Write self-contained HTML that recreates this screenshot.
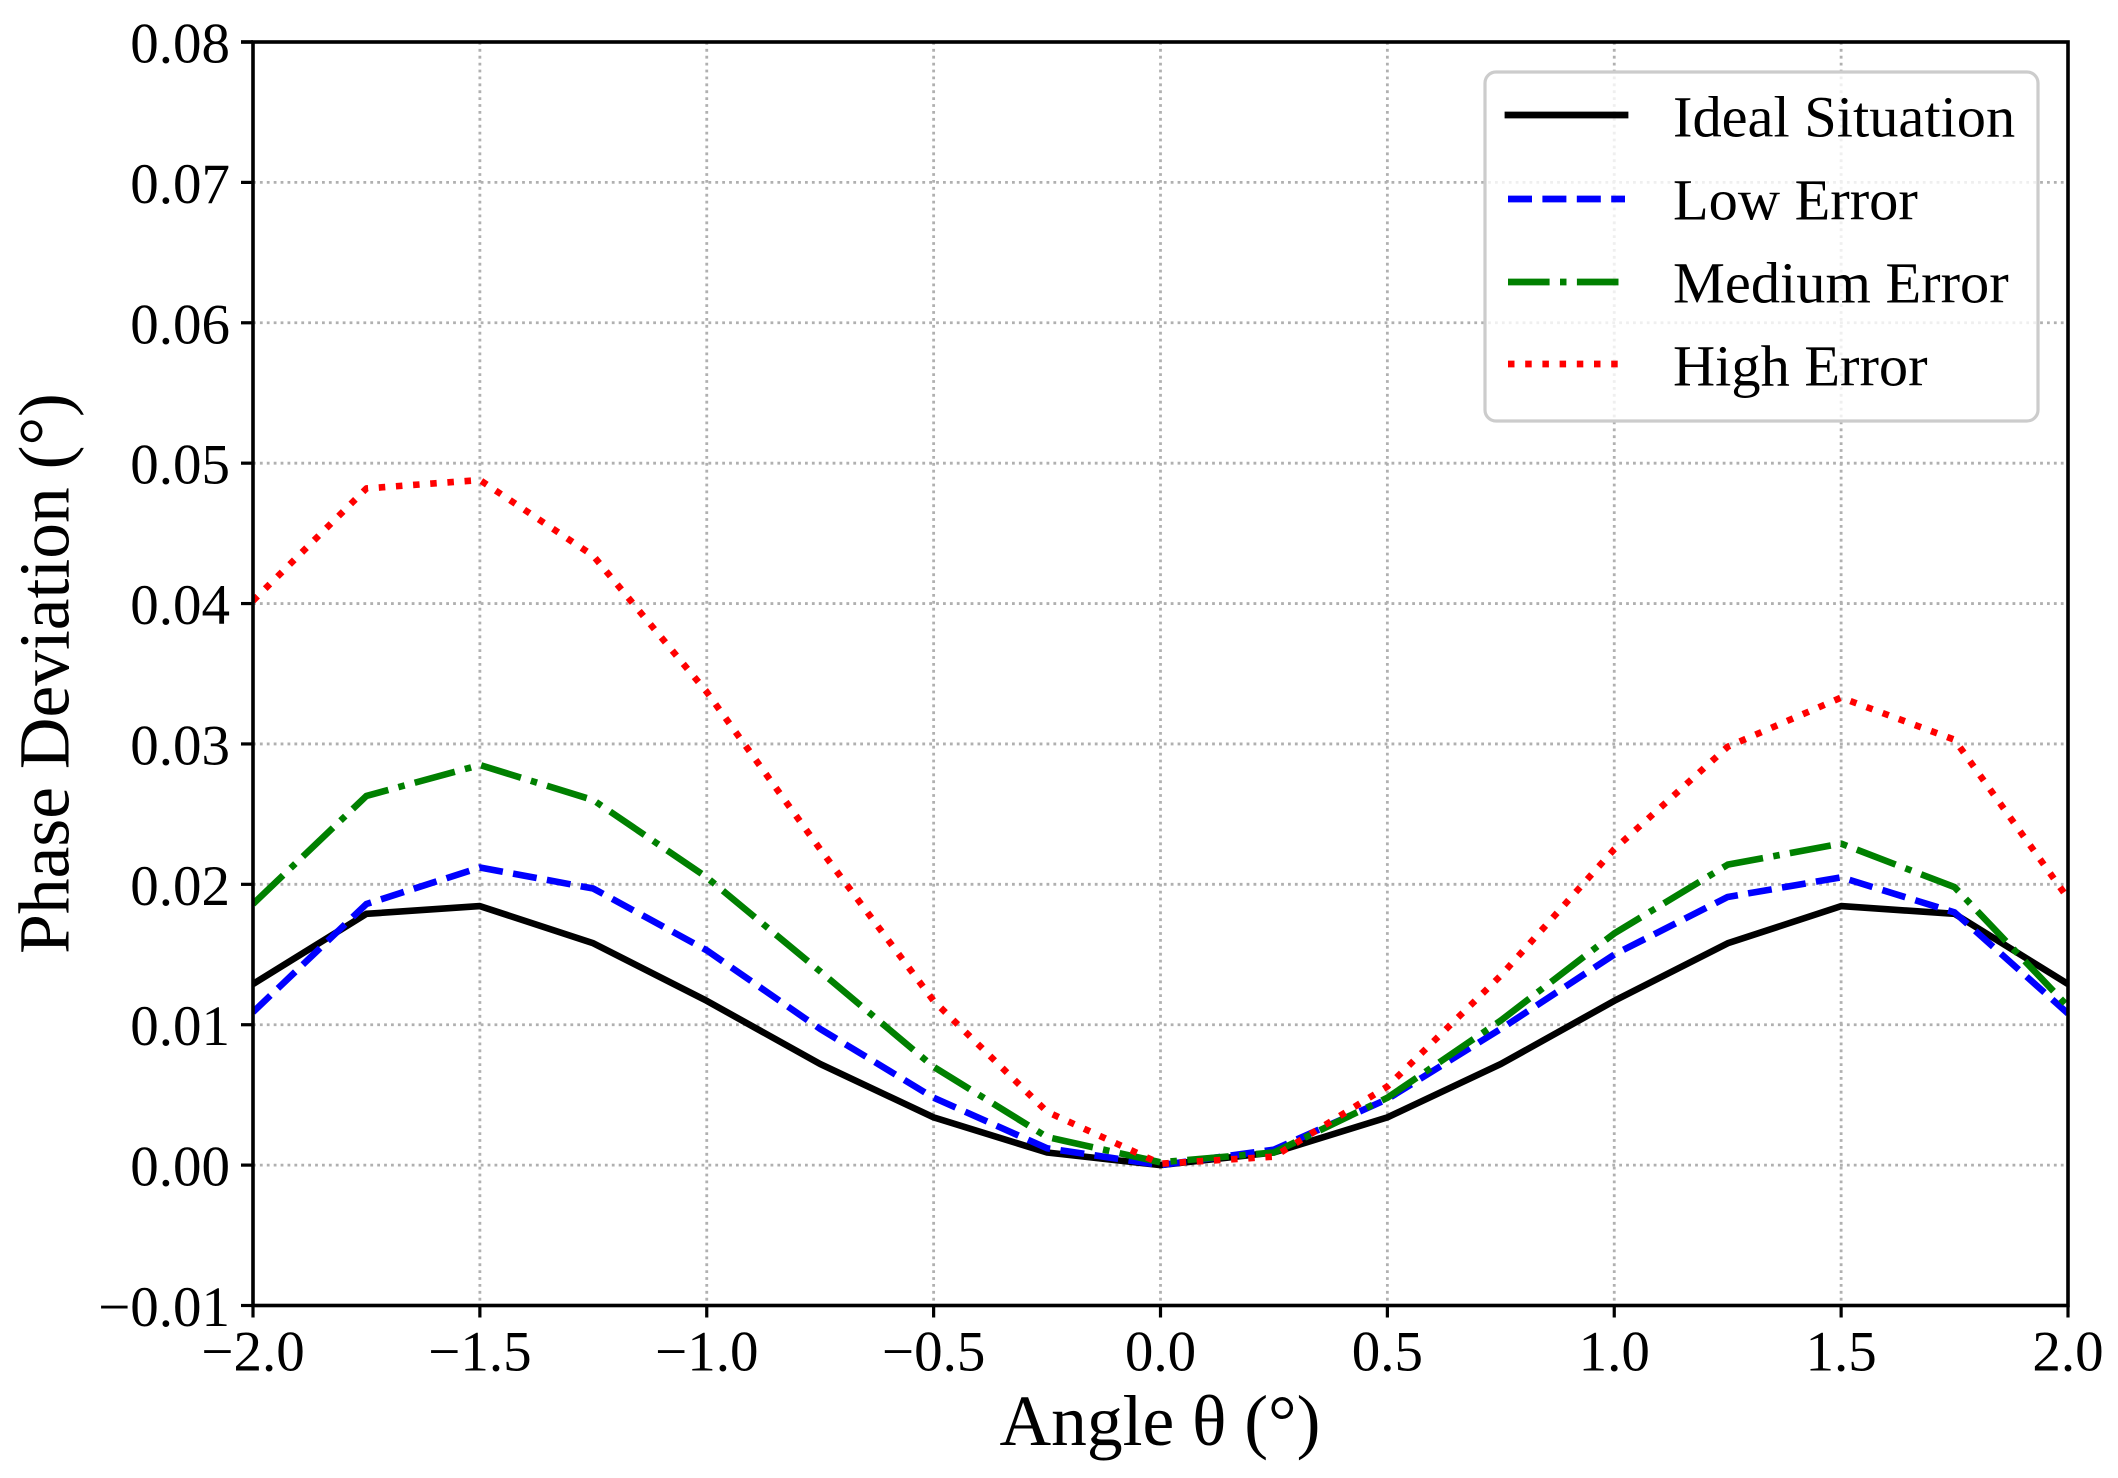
<!DOCTYPE html>
<html lang="en">
<head>
<meta charset="utf-8">
<title>Phase Deviation vs Angle</title>
<style>
  html, body { margin: 0; padding: 0; background: #fff; }
  svg { display: block; }
  text { font-family: "Liberation Serif", "Times New Roman", serif; fill: #000; }
</style>
</head>
<body>
<svg id="chart" xmlns="http://www.w3.org/2000/svg" width="2118" height="1478" viewBox="0 0 2118 1478">
  <rect x="0" y="0" width="2118" height="1478" fill="#ffffff"/>
  <defs>
    <clipPath id="plot-clip"><rect x="253" y="42" width="1815" height="1263.5"/></clipPath>
  </defs>
  <g id="grid"></g>
  <g id="series" clip-path="url(#plot-clip)"></g>
  <g id="axes"></g>
  <g id="legend">
    <rect x="1485" y="72" width="553" height="349" rx="11" ry="11" fill="#ffffff" fill-opacity="0.8" stroke="#cccccc" stroke-width="3.2"/>
    <line x1="1508" y1="115" x2="1625" y2="115" stroke="#000000" stroke-width="6.8" stroke-linecap="square"/>
    <text x="1673" y="136.5" font-size="58.4">Ideal Situation</text>
    <line x1="1508" y1="199" x2="1625" y2="199" stroke="#0000ff" stroke-width="6.8" stroke-dasharray="24 10.4"/>
    <text x="1673" y="219.5" font-size="58.4">Low Error</text>
    <line x1="1508" y1="282" x2="1625" y2="282" stroke="#008000" stroke-width="6.8" stroke-dasharray="41.6 10.4 6.5 10.4"/>
    <text x="1673" y="302.5" font-size="58.4">Medium Error</text>
    <line x1="1508" y1="364" x2="1625" y2="364" stroke="#ff0000" stroke-width="6.8" stroke-dasharray="6.5 10.7"/>
    <text x="1673" y="385.5" font-size="58.4">High Error</text>
  </g>
  <text x="1160" y="1445" font-size="71.5" text-anchor="middle">Angle θ (°)</text>
  <text transform="translate(68.5 673.5) rotate(-90)" x="0" y="0" font-size="71.5" text-anchor="middle">Phase Deviation (°)</text>
</svg>
<script>
const angles = [-2, -1.75, -1.5, -1.25, -1, -0.75, -0.5, -0.25, 0, 0.25, 0.5, 0.75, 1, 1.25, 1.5, 1.75, 2];
const idealSituation = [0.0129, 0.0179, 0.01845, 0.0158, 0.0117, 0.0072, 0.0034, 0.0009, 0, 0.0009, 0.0034, 0.0072, 0.0117, 0.0158, 0.01845, 0.0179, 0.0129];
const lowError = [0.0109, 0.0186, 0.0212, 0.0197, 0.0153, 0.0097, 0.0048, 0.0012, 0, 0.0011, 0.0047, 0.0097, 0.015, 0.0191, 0.0205, 0.018, 0.0108];
const mediumError = [0.0186, 0.0263, 0.0285, 0.026, 0.0205, 0.0138, 0.007, 0.002, 0.0002, 0.0009, 0.0048, 0.0103, 0.0165, 0.0214, 0.0229, 0.0198, 0.0113];
const highError = [0.0402, 0.0482, 0.0488, 0.0434, 0.0337, 0.0225, 0.0117, 0.0038, 0.0001, 0.0006, 0.0056, 0.0135, 0.0225, 0.0298, 0.0333, 0.0303, 0.019];
const xTicks = [-2, -1.5, -1, -0.5, 0, 0.5, 1, 1.5, 2];
const xTickLabels = ["−2.0", "−1.5", "−1.0", "−0.5", "0.0", "0.5", "1.0", "1.5", "2.0"];
const yTicks = [-0.01, 0, 0.01, 0.02, 0.03, 0.04, 0.05, 0.06, 0.07, 0.08];
const yTickLabels = ["−0.01", "0.00", "0.01", "0.02", "0.03", "0.04", "0.05", "0.06", "0.07", "0.08"];

const NS = "http://www.w3.org/2000/svg";
const plotLeft = 253, plotRight = 2068, plotTop = 42, plotBottom = 1305.5;
const xMin = -2, xMax = 2, yMin = -0.01, yMax = 0.08;

function xScale(v) { return plotLeft + (v - xMin) / (xMax - xMin) * (plotRight - plotLeft); }
function yScale(v) { return plotBottom - (v - yMin) / (yMax - yMin) * (plotBottom - plotTop); }

function make(tag, attrs) {
  const el = document.createElementNS(NS, tag);
  for (const k in attrs) el.setAttribute(k, attrs[k]);
  return el;
}

const gridG = document.getElementById("grid");
const seriesG = document.getElementById("series");
const axesG = document.getElementById("axes");

xTicks.forEach(function (t, i) {
  const x = xScale(t);
  if (t > xMin && t < xMax) {
    const g = make("line", { x1: x, y1: plotTop, x2: x, y2: plotBottom, stroke: "#b0b0b0", "stroke-width": 2.8, "stroke-dasharray": "2.8 4.1" });
    
    
    gridG.appendChild(g);
  }
  const tick = make("line", { x1: x, y1: plotBottom, x2: x, y2: plotBottom + 12, stroke: "#000", "stroke-width": 3.2 });
  
  
  axesG.appendChild(tick);
  const label = make("text", { x: x, y: 1370.5, "font-size": 57, "text-anchor": "middle" });
  label.textContent = xTickLabels[i];
  
  
  axesG.appendChild(label);
});

yTicks.forEach(function (t, i) {
  const y = yScale(t);
  if (t > yMin && t < yMax) {
    const g = make("line", { x1: plotLeft, y1: y, x2: plotRight, y2: y, stroke: "#b0b0b0", "stroke-width": 2.8, "stroke-dasharray": "2.8 4.1" });
    
    
    gridG.appendChild(g);
  }
  const tick = make("line", { x1: plotLeft - 12, y1: y, x2: plotLeft, y2: y, stroke: "#000", "stroke-width": 3.2 });
  
  
  axesG.appendChild(tick);
  const label = make("text", { x: 230, y: y + 20.5, "font-size": 57, "text-anchor": "end" });
  label.textContent = yTickLabels[i];
  
  
  axesG.appendChild(label);
});

function pointsFor(values) {
  return values.map(function (v, i) { return xScale(angles[i]).toFixed(2) + "," + yScale(v).toFixed(2); }).join(" ");
}

const idealLine = make("polyline", { points: pointsFor(idealSituation), fill: "none", stroke: "#000000", "stroke-width": 6.6, "stroke-linejoin": "round" });


seriesG.appendChild(idealLine);

const lowLine = make("polyline", { points: pointsFor(lowError), fill: "none", stroke: "#0000ff", "stroke-width": 6.6, "stroke-linejoin": "round", "stroke-dasharray": "24 10.4" });


seriesG.appendChild(lowLine);

const mediumLine = make("polyline", { points: pointsFor(mediumError), fill: "none", stroke: "#008000", "stroke-width": 6.6, "stroke-linejoin": "round", "stroke-dasharray": "41.6 10.4 6.5 10.4" });


seriesG.appendChild(mediumLine);

const highLine = make("polyline", { points: pointsFor(highError), fill: "none", stroke: "#ff0000", "stroke-width": 6.6, "stroke-linejoin": "round", "stroke-dasharray": "6.5 10.7" });


seriesG.appendChild(highLine);

const frame = make("rect", { x: plotLeft, y: plotTop, width: plotRight - plotLeft, height: plotBottom - plotTop, fill: "none", stroke: "#000", "stroke-width": 3.6 });


axesG.appendChild(frame);

const topTick = make("line", { x1: plotLeft - 12, y1: plotTop, x2: plotLeft, y2: plotTop, stroke: "#000", "stroke-width": 3.6 });


axesG.appendChild(topTick);
</script>
</body>
</html>
